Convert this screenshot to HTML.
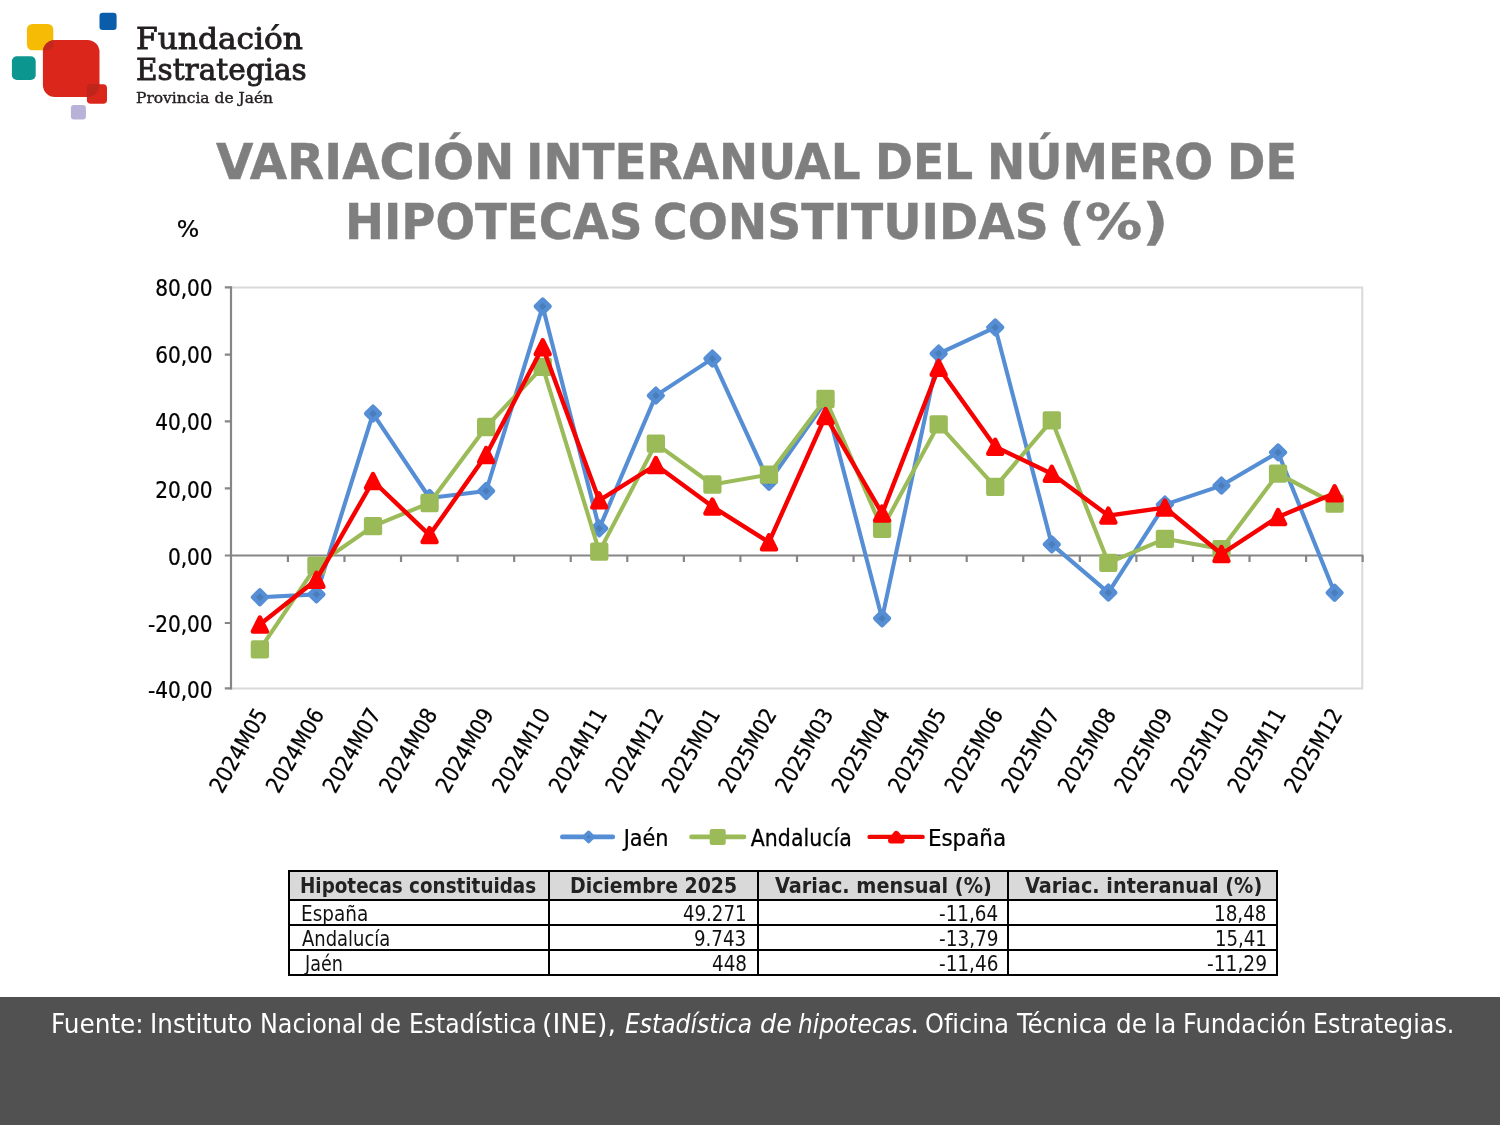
<!DOCTYPE html>
<html lang="es">
<head>
<meta charset="utf-8">
<title>Variación interanual del número de hipotecas constituidas (%)</title>
<style>
html,body{margin:0;padding:0;background:#fff;}
body{width:1500px;height:1125px;position:relative;overflow:hidden;font-family:'DejaVu Sans Condensed','DejaVu Sans','Liberation Sans',sans-serif;color:#000;}
span{position:absolute;display:block;white-space:nowrap;transform-origin:0 0;}
.chart,.logo{position:absolute;left:0;top:0;}
header{font-family:'DejaVu Serif','Liberation Serif',serif;color:#231f20;}
.b1{font-size:30.6px;line-height:40px;-webkit-text-stroke:0.9px #231f20;}
.b3{font-size:15px;line-height:20px;-webkit-text-stroke:0.4px #231f20;}
h1{margin:0;font-size:49.2px;line-height:60px;font-weight:bold;color:#7f7f7f;-webkit-text-stroke:0.4px #7f7f7f;}
.data{position:absolute;left:0;top:0;width:1212px;height:127px;padding:870px 0 0 288px;}
table{border-collapse:collapse;table-layout:fixed;width:988.4px;margin:0;}
th,td{border:2px solid #000;padding:0;height:23px;font-size:21.3px;line-height:26px;font-weight:normal;color:#111;}
th{background:#d9d9d9;height:27px;font-size:21.9px;line-height:28px;font-weight:bold;color:#222;}
footer{position:absolute;left:0;top:997px;width:1500px;height:128px;background:#515151;}
footer p{margin:0;position:absolute;left:0;top:-997px;color:#fff;font-size:27.2px;line-height:36px;}
</style>
</head>
<body>
<header>
<svg class="logo" width="130" height="125" viewBox="0 0 130 125" aria-hidden="true">
<rect x="26.9" y="24" width="26.4" height="26.3" rx="5.5" fill="#f5bb05"/>
<rect x="99.5" y="12.8" width="17.1" height="17.1" rx="3.2" fill="#0a5dab"/>
<rect x="11.9" y="56.2" width="23.8" height="23.8" rx="5" fill="#0c9690"/>
<rect x="42.9" y="40" width="56.6" height="57" rx="12" fill="#db261c"/>
<path d="M42.9 50.3V52A12 12 0 0 1 53.3 40.1V45A5.5 5.5 0 0 1 47.8 50.3Z" fill="#c2281d"/>
<rect x="86.9" y="84.3" width="20.1" height="19.4" rx="3.8" fill="#db261c"/>
<path d="M86.9 97V88.1A3.8 3.8 0 0 1 90.7 84.3H99.5V85A12 12 0 0 1 87.5 97Z" fill="#bf251b"/>
<rect x="70.9" y="105" width="15" height="14.5" rx="3" fill="#b9b2d8"/>
</svg>
<span class="b1" style="left:135.5px;top:19.21px;transform:scaleX(1.0211);">Fundación</span><span class="b1" style="left:135.56px;top:49.91px;transform:scaleX(0.9654);">Estrategias</span><span class="b3" style="left:136.14px;top:88.35px;transform:scaleX(1.031);">Provincia de Jaén</span>
</header>
<h1><span style="left:215.79px;top:131.65px;transform:scaleX(1.0909);">VARIACIÓN</span> <span style="left:526.31px;top:131.65px;transform:scaleX(1.0586);">INTERANUAL</span> <span style="left:874.62px;top:131.65px;transform:scaleX(1.0316);">DEL</span> <span style="left:987.01px;top:131.65px;transform:scaleX(1.0333);">NÚMERO</span> <span style="left:1226.97px;top:131.65px;transform:scaleX(1.0447);">DE</span> <span style="left:344.64px;top:191.65px;transform:scaleX(1.0528);">HIPOTECAS</span> <span style="left:653.3px;top:191.65px;transform:scaleX(1.0664);">CONSTITUIDAS</span> <span style="left:1059.48px;top:191.65px;transform:scaleX(1.2914);">(%)</span></h1>
<svg class="chart" width="1500" height="1125" viewBox="0 0 1500 1125" role="img" aria-label="Gráfico de líneas"><path d="M231 287.4H1362.3V688.4H231" fill="none" stroke="#d9d9d9" stroke-width="2"/><g stroke="#868686" stroke-width="2.2" fill="none"><path d="M231 286.29999999999995V689.5"/><path d="M231 555.5H1363.3"/><path d="M224.8 287.4H231M224.8 354.7H231M224.8 421.4H231M224.8 488.3H231M224.8 555.5H231M224.8 623H231M224.8 688.4H231M287.91 555.5V561.9M344.48 555.5V561.9M401.04 555.5V561.9M457.61 555.5V561.9M514.17 555.5V561.9M570.74 555.5V561.9M627.3 555.5V561.9M683.87 555.5V561.9M740.43 555.5V561.9M797 555.5V561.9M853.56 555.5V561.9M910.13 555.5V561.9M966.7 555.5V561.9M1023.26 555.5V561.9M1079.82 555.5V561.9M1136.39 555.5V561.9M1192.95 555.5V561.9M1249.52 555.5V561.9M1306.08 555.5V561.9M1362.65 555.5V561.9"/></g><polyline points="259.88,597.2 316.45,594.4 373.01,413.6 429.58,498 486.14,491 542.71,306.4 599.27,528.4 655.84,395.6 712.4,358.6 768.97,481.8 825.53,401.5 882.1,618.4 938.66,353.6 995.23,327.4 1051.79,544.4 1108.36,592.6 1164.92,504.6 1221.49,485.6 1278.05,452.4 1334.62,592.8" fill="none" stroke="#558ed5" stroke-width="4.1" stroke-linejoin="round" stroke-linecap="round"/><g fill="#4a7ebb" stroke="#558ed5" stroke-width="4.4" stroke-linejoin="round"><path d="M259.88 590.3L266.78 597.2L259.88 604.1L252.98 597.2Z"/><path d="M316.45 587.5L323.35 594.4L316.45 601.3L309.55 594.4Z"/><path d="M373.01 406.7L379.91 413.6L373.01 420.5L366.11 413.6Z"/><path d="M429.58 491.1L436.48 498L429.58 504.9L422.68 498Z"/><path d="M486.14 484.1L493.04 491L486.14 497.9L479.24 491Z"/><path d="M542.71 299.5L549.61 306.4L542.71 313.3L535.81 306.4Z"/><path d="M599.27 521.5L606.17 528.4L599.27 535.3L592.37 528.4Z"/><path d="M655.84 388.7L662.74 395.6L655.84 402.5L648.94 395.6Z"/><path d="M712.4 351.7L719.3 358.6L712.4 365.5L705.5 358.6Z"/><path d="M768.97 474.9L775.87 481.8L768.97 488.7L762.07 481.8Z"/><path d="M825.53 394.6L832.43 401.5L825.53 408.4L818.63 401.5Z"/><path d="M882.1 611.5L889 618.4L882.1 625.3L875.2 618.4Z"/><path d="M938.66 346.7L945.56 353.6L938.66 360.5L931.76 353.6Z"/><path d="M995.23 320.5L1002.13 327.4L995.23 334.3L988.33 327.4Z"/><path d="M1051.79 537.5L1058.69 544.4L1051.79 551.3L1044.89 544.4Z"/><path d="M1108.36 585.7L1115.26 592.6L1108.36 599.5L1101.46 592.6Z"/><path d="M1164.92 497.7L1171.82 504.6L1164.92 511.5L1158.02 504.6Z"/><path d="M1221.49 478.7L1228.39 485.6L1221.49 492.5L1214.59 485.6Z"/><path d="M1278.05 445.5L1284.95 452.4L1278.05 459.3L1271.15 452.4Z"/><path d="M1334.62 585.9L1341.52 592.8L1334.62 599.7L1327.72 592.8Z"/></g><polyline points="259.88,649.4 316.45,565.6 373.01,526.2 429.58,503 486.14,427 542.71,366.8 599.27,551.6 655.84,443.6 712.4,484.5 768.97,474.6 825.53,399 882.1,528.8 938.66,424.3 995.23,486.8 1051.79,420.3 1108.36,562.8 1164.92,538.8 1221.49,549.1 1278.05,473.6 1334.62,503.6" fill="none" stroke="#9bbb59" stroke-width="4.1" stroke-linejoin="round" stroke-linecap="round"/><g fill="#9bbb59" stroke="#9bbb59" stroke-width="4.4" stroke-linejoin="round"><rect x="252.93" y="642.45" width="13.9" height="13.9"/><rect x="309.5" y="558.65" width="13.9" height="13.9"/><rect x="366.06" y="519.25" width="13.9" height="13.9"/><rect x="422.63" y="496.05" width="13.9" height="13.9"/><rect x="479.19" y="420.05" width="13.9" height="13.9"/><rect x="535.76" y="359.85" width="13.9" height="13.9"/><rect x="592.32" y="544.65" width="13.9" height="13.9"/><rect x="648.89" y="436.65" width="13.9" height="13.9"/><rect x="705.45" y="477.55" width="13.9" height="13.9"/><rect x="762.02" y="467.65" width="13.9" height="13.9"/><rect x="818.58" y="392.05" width="13.9" height="13.9"/><rect x="875.15" y="521.85" width="13.9" height="13.9"/><rect x="931.71" y="417.35" width="13.9" height="13.9"/><rect x="988.28" y="479.85" width="13.9" height="13.9"/><rect x="1044.84" y="413.35" width="13.9" height="13.9"/><rect x="1101.41" y="555.85" width="13.9" height="13.9"/><rect x="1157.97" y="531.85" width="13.9" height="13.9"/><rect x="1214.54" y="542.15" width="13.9" height="13.9"/><rect x="1271.1" y="466.65" width="13.9" height="13.9"/><rect x="1327.67" y="496.65" width="13.9" height="13.9"/></g><polyline points="259.88,624.5 316.45,579.7 373.01,481 429.58,535.1 486.14,455 542.71,347.3 599.27,500.4 655.84,465 712.4,506.6 768.97,542.2 825.53,416 882.1,513.6 938.66,367.7 995.23,446.7 1051.79,473.7 1108.36,515.6 1164.92,507.6 1221.49,554 1278.05,517 1334.62,493.2" fill="none" stroke="#f60000" stroke-width="4.4" stroke-linejoin="round" stroke-linecap="round"/><g fill="#ff0000" stroke="#ff0000" stroke-width="4.4" stroke-linejoin="round"><path d="M259.88 617.5L266.88 631.5L252.88 631.5Z"/><path d="M316.45 572.7L323.45 586.7L309.45 586.7Z"/><path d="M373.01 474L380.01 488L366.01 488Z"/><path d="M429.58 528.1L436.58 542.1L422.58 542.1Z"/><path d="M486.14 448L493.14 462L479.14 462Z"/><path d="M542.71 340.3L549.71 354.3L535.71 354.3Z"/><path d="M599.27 493.4L606.27 507.4L592.27 507.4Z"/><path d="M655.84 458L662.84 472L648.84 472Z"/><path d="M712.4 499.6L719.4 513.6L705.4 513.6Z"/><path d="M768.97 535.2L775.97 549.2L761.97 549.2Z"/><path d="M825.53 409L832.53 423L818.53 423Z"/><path d="M882.1 506.6L889.1 520.6L875.1 520.6Z"/><path d="M938.66 360.7L945.66 374.7L931.66 374.7Z"/><path d="M995.23 439.7L1002.23 453.7L988.23 453.7Z"/><path d="M1051.79 466.7L1058.79 480.7L1044.79 480.7Z"/><path d="M1108.36 508.6L1115.36 522.6L1101.36 522.6Z"/><path d="M1164.92 500.6L1171.92 514.6L1157.92 514.6Z"/><path d="M1221.49 547L1228.49 561L1214.49 561Z"/><path d="M1278.05 510L1285.05 524L1271.05 524Z"/><path d="M1334.62 486.2L1341.62 500.2L1327.62 500.2Z"/></g><g font-family="'DejaVu Sans Condensed','DejaVu Sans','Liberation Sans',sans-serif" font-size="22.5" fill="#000" stroke="#000" stroke-width="0.25"><text transform="translate(212.6 295.8) scale(0.9915 1)" text-anchor="end">80,00</text><text transform="translate(212.6 362.7) scale(0.9915 1)" text-anchor="end">60,00</text><text transform="translate(212.6 429.8) scale(0.9915 1)" text-anchor="end">40,00</text><text transform="translate(212.6 497.8) scale(0.9915 1)" text-anchor="end">20,00</text><text transform="translate(212.6 564.8) scale(0.9915 1)" text-anchor="end">0,00</text><text transform="translate(212.6 632.4) scale(0.9915 1)" text-anchor="end">-20,00</text><text transform="translate(212.6 698.4) scale(0.9915 1)" text-anchor="end">-40,00</text><text transform="translate(268.33 714.2) rotate(-60) scale(0.9783 1)" text-anchor="end">2024M05</text><text transform="translate(324.9 714.2) rotate(-60) scale(0.9783 1)" text-anchor="end">2024M06</text><text transform="translate(381.46 714.2) rotate(-60) scale(0.9783 1)" text-anchor="end">2024M07</text><text transform="translate(438.03 714.2) rotate(-60) scale(0.9783 1)" text-anchor="end">2024M08</text><text transform="translate(494.59 714.2) rotate(-60) scale(0.9783 1)" text-anchor="end">2024M09</text><text transform="translate(551.16 714.2) rotate(-60) scale(0.9783 1)" text-anchor="end">2024M10</text><text transform="translate(607.72 714.2) rotate(-60) scale(0.9783 1)" text-anchor="end">2024M11</text><text transform="translate(664.29 714.2) rotate(-60) scale(0.9783 1)" text-anchor="end">2024M12</text><text transform="translate(720.85 714.2) rotate(-60) scale(0.9783 1)" text-anchor="end">2025M01</text><text transform="translate(777.42 714.2) rotate(-60) scale(0.9783 1)" text-anchor="end">2025M02</text><text transform="translate(833.98 714.2) rotate(-60) scale(0.9783 1)" text-anchor="end">2025M03</text><text transform="translate(890.55 714.2) rotate(-60) scale(0.9783 1)" text-anchor="end">2025M04</text><text transform="translate(947.11 714.2) rotate(-60) scale(0.9783 1)" text-anchor="end">2025M05</text><text transform="translate(1003.68 714.2) rotate(-60) scale(0.9783 1)" text-anchor="end">2025M06</text><text transform="translate(1060.24 714.2) rotate(-60) scale(0.9783 1)" text-anchor="end">2025M07</text><text transform="translate(1116.81 714.2) rotate(-60) scale(0.9783 1)" text-anchor="end">2025M08</text><text transform="translate(1173.37 714.2) rotate(-60) scale(0.9783 1)" text-anchor="end">2025M09</text><text transform="translate(1229.94 714.2) rotate(-60) scale(0.9783 1)" text-anchor="end">2025M10</text><text transform="translate(1286.5 714.2) rotate(-60) scale(0.9783 1)" text-anchor="end">2025M11</text><text transform="translate(1343.07 714.2) rotate(-60) scale(0.9783 1)" text-anchor="end">2025M12</text><text transform="translate(176.81 237) scale(1.1709 1)">%</text><text transform="translate(623.63 846.3) scale(1.0291 1)">Jaén</text><text transform="translate(750.85 846.3) scale(1.0138 1)">Andalucía</text><text transform="translate(927.88 846.3) scale(1.0591 1)">España</text></g><path d="M562.3 836.9H612.8" stroke="#558ed5" stroke-width="4.6" stroke-linecap="round"/><g fill="#4a7ebb" stroke="#558ed5" stroke-width="3.6" stroke-linejoin="round"><path d="M588.6 832.3L593.2 836.9L588.6 841.5L584 836.9Z"/></g><path d="M691.5 836.9H744" stroke="#9bbb59" stroke-width="4.6" stroke-linecap="round"/><g fill="#9bbb59" stroke="#9bbb59" stroke-width="4.4" stroke-linejoin="round"><rect x="711.9" y="831.1" width="11.6" height="11.6"/></g><path d="M869.6 836.9H922.6" stroke="#ee0800" stroke-width="4.4" stroke-linecap="round"/><g fill="#ff0000" stroke="#ff0000" stroke-width="6" stroke-linejoin="round"><path d="M896.3 833.8L901.6 840.6L891 840.6Z"/></g></svg>
<section class="data">
<table>
<colgroup><col style="width:260px"><col style="width:209px"><col style="width:250px"><col style="width:269.4px"></colgroup>
<thead><tr><th><span style="left:300.31px;top:871.8px;transform:scaleX(0.9312);">Hipotecas constituidas</span></th><th><span style="left:570.36px;top:871.8px;transform:scaleX(0.9588);">Diciembre 2025</span></th><th><span style="left:774.93px;top:871.8px;transform:scaleX(0.9793);">Variac. mensual (%)</span></th><th><span style="left:1024.93px;top:871.8px;transform:scaleX(0.979);">Variac. interanual (%)</span></th></tr></thead>
<tbody>
<tr><td><span style="left:300.5px;top:900.8px;transform:scaleX(0.9627);">España</span></td><td><span style="left:683.21px;top:900.8px;transform:scaleX(0.9478);">49.271</span></td><td><span style="left:938.9px;top:900.8px;transform:scaleX(0.9588);">-11,64</span></td><td><span style="left:1214.48px;top:900.8px;transform:scaleX(0.958);">18,48</span></td></tr>
<tr><td><span style="left:301.7px;top:925.6px;transform:scaleX(0.9364);">Andalucía</span></td><td><span style="left:694.29px;top:925.6px;transform:scaleX(0.9506);">9.743</span></td><td><span style="left:938.89px;top:925.6px;transform:scaleX(0.9635);">-13,79</span></td><td><span style="left:1214.5px;top:925.6px;transform:scaleX(0.9456);">15,41</span></td></tr>
<tr><td><span style="left:305.19px;top:950.6px;transform:scaleX(0.9156);">Jaén</span></td><td><span style="left:712.3px;top:950.6px;transform:scaleX(0.9576);">448</span></td><td><span style="left:938.89px;top:950.6px;transform:scaleX(0.9616);">-11,46</span></td><td><span style="left:1207.19px;top:950.6px;transform:scaleX(0.972);">-11,29</span></td></tr>
</tbody>
</table>
</section>
<footer><p><span style="left:51.05px;top:1006px;transform:scaleX(1.0127);">Fuente:</span> <span style="left:150.36px;top:1006px;transform:scaleX(1.0075);">Instituto</span> <span style="left:259.64px;top:1006px;transform:scaleX(0.9756);">Nacional</span> <span style="left:370.37px;top:1006px;transform:scaleX(1.0144);">de</span> <span style="left:408.87px;top:1006px;transform:scaleX(0.9619);">Estadística</span> <span style="left:541.66px;top:1006px;transform:scaleX(1.0911);">(INE),</span> <i><span style="left:624.89px;top:1006px;transform:scaleX(0.9582);">Estadística</span> <span style="left:760.08px;top:1006px;transform:scaleX(1.0404);">de</span> <span style="left:798.39px;top:1006px;transform:scaleX(0.9533);">hipotecas</span></i><span style="left:909.79px;top:1006px;transform:scaleX(1.1897);">.</span> <span style="left:925.38px;top:1006px;transform:scaleX(0.9826);">Oficina</span> <span style="left:1017.35px;top:1006px;transform:scaleX(1.0091);">Técnica</span> <span style="left:1116.18px;top:1006px;transform:scaleX(1.0072);">de</span> <span style="left:1153.61px;top:1006px;transform:scaleX(1.0249);">la</span> <span style="left:1183.21px;top:1006px;transform:scaleX(0.9871);">Fundación</span> <span style="left:1313.25px;top:1006px;transform:scaleX(0.9729);">Estrategias.</span></p></footer>
</body>
</html>
